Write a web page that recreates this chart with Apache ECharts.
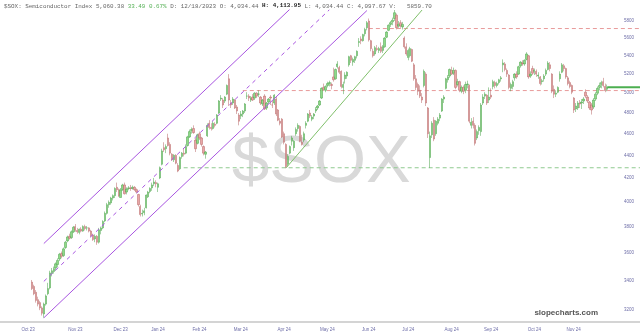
<!DOCTYPE html>
<html><head><meta charset="utf-8">
<script src="https://cdn.jsdelivr.net/npm/echarts@6/dist/echarts.min.js"></script>
<style>html,body{margin:0;padding:0;background:#fff;}#c{width:640px;height:335px;}</style>
</head><body><div id="c"></div>
<script>
// ---------- DATA ----------
const holidays = ['2023-11-23','2023-12-25','2024-01-01','2024-01-15','2024-02-19','2024-03-29','2024-05-27','2024-06-19','2024-07-04','2024-09-02','2024-11-28','2024-12-25'];
const calendarStart = '2023-10-02';
const calendarEnd = '2024-12-31';
const dataStart = '2023-10-13';

const opens = [
3390,3360,3320,3270,3250,3215,3175,3240,3310,3350,
3450,3465,3490,3515,3555,3595,3580,3640,3690,3725,
3715,3760,3800,3770,3755,3780,3765,3800,3790,3790,
3765,3735,3705,3725,3680,3770,3790,3845,3905,3975,
3990,4030,4050,4120,4100,4034.44,4100,4140,4080,4110,
4115,4110,4120,4100,4060,3960,3900,3910,3950,4040,
4085,4115,4150,4160,4120,4200,4320,4470,4460,4560,
4500,4410,4360,4400,4310,4280,4390,4420,4420,4490,
4570,4630,4650,4540,4510,4600,4560,4480,4410,4580,
4700,4660,4650,4690,4700,4800,4940,4930,4920,4990,
5150,4900,4900,4930,4860,4780,4770,4790,4820,4970,
4970,4930,4960,4950,5000,4990,4960,4890,4970,4850,
4910,4960,4880,4900,4940,4830,4720,4740,4600,4500,
4320,4420,4530,4470,4600,4650,4670,4520,4540,4680,
4720,4800,4740,4770,4820,4850,4880,4950,5060,5030,
5080,5100,5090,5170,5150,5280,5270,5230,5060,5150,
5180,5300,5400,5330,5350,5400,5550,5590,5570,5650,
5720,5800,5570,5450,5420,5480,5460,5500,5460,5500,
5610,5690,5760,5790,5830,5870,5740,5780,5730,5600,
5500,5380,5400,5470,5300,5150,5090,5030,4960,5080,
5200,4850,4380,4590,4730,4600,4700,4750,4820,4940,
5050,5140,5180,5240,5210,5240,5090,5120,5020,5060,
5030,5090,5080,4680,4720,4680,4560,4630,4620,4900,
4970,4980,4930,4980,5070,5110,5080,5110,5150,5300,
5310,5240,5190,5050,5070,5160,5200,5200,5290,5320,
5310,5360,5400,5180,5260,5230,5230,5180,5170,5120,
5150,5200,5250,5300,5200,5040,4990,5010,5150,5220,
5290,5260,5160,5110,5080,4950,4840,4850,4900,4900,
4920,5010,4960,4910,4880,4860,4940,5000,5060,5090,
5120,5070,5040];
const highs = [
3405,3372,3335,3290,3262,3225,3250,3305,3385,3470,
3490,3500,3530,3560,3600,3610,3640,3690,3730,3745,
3770,3805,3820,3790,3785,3795,3810,3815,3805,3795,
3775,3745,3740,3735,3790,3800,3850,3920,3990,4010,
4040,4060,4120,4160,4110,4113.95,4150,4160,4120,4130,
4140,4135,4130,4110,4065,3975,3935,3950,4060,4090,
4120,4160,4200,4180,4160,4300,4460,4520,4500,4600,
4520,4420,4410,4410,4330,4390,4430,4460,4500,4580,
4640,4660,4680,4560,4600,4620,4570,4490,4440,4700,
4730,4700,4720,4710,4790,4930,4980,4950,4970,5090,
5200,4930,4960,4940,4880,4800,4820,4830,4900,5010,
4990,4970,4990,5010,5010,5030,4970,4940,4990,4910,
4950,4980,4920,4990,4960,4840,4750,4750,4620,4510,
4410,4490,4580,4540,4660,4700,4680,4590,4620,4720,
4800,4830,4780,4800,4860,4880,4930,5060,5100,5080,
5120,5130,5110,5270,5260,5340,5290,5240,5120,5220,
5230,5400,5410,5380,5400,5460,5600,5620,5650,5720,
5800,5830,5580,5480,5510,5520,5500,5550,5520,5610,
5680,5760,5800,5840,5933,5890,5800,5810,5790,5620,
5540,5480,5500,5480,5320,5190,5110,5080,5000,5250,
5220,4860,4620,4720,4760,4730,4760,4800,4950,4980,
5160,5190,5260,5280,5270,5250,5150,5130,5080,5080,
5120,5130,5090,4750,4760,4700,4640,4680,4900,4990,
5010,4990,5060,5050,5140,5130,5120,5150,5180,5360,
5330,5260,5200,5110,5140,5210,5230,5290,5340,5350,
5360,5440,5410,5230,5290,5260,5250,5220,5180,5150,
5200,5260,5340,5330,5210,5080,5030,5070,5230,5320,
5310,5270,5180,5130,5090,4960,4900,4920,4930,4940,
4960,5040,4980,4920,4900,4950,5010,5070,5110,5130,
5160,5100,5090];
const lows = [
3335,3300,3250,3225,3200,3165,3150,3230,3300,3340,
3430,3450,3470,3495,3540,3560,3570,3630,3680,3700,
3705,3750,3760,3745,3740,3755,3760,3770,3770,3755,
3720,3690,3680,3660,3670,3740,3780,3835,3895,3950,
3975,4010,4030,4080,4040,4034.44,4090,4060,4060,4095,
4090,4100,4090,4070,3960,3880,3880,3890,3945,4030,
4070,4090,4130,4120,4080,4190,4310,4430,4420,4480,
4400,4350,4340,4320,4250,4270,4370,4390,4410,4480,
4560,4600,4600,4430,4500,4540,4480,4400,4370,4570,
4640,4630,4640,4660,4690,4790,4920,4850,4900,4980,
4870,4850,4880,4840,4790,4680,4740,4760,4800,4940,
4920,4910,4920,4930,4950,4960,4880,4870,4830,4830,
4890,4880,4850,4880,4770,4720,4680,4560,4500,4285,
4300,4410,4490,4440,4580,4620,4520,4490,4520,4650,
4710,4750,4720,4740,4800,4830,4870,4940,5030,5010,
5060,5070,5040,5120,5140,5260,5200,5050,4990,5100,
5150,5280,5320,5290,5320,5370,5500,5530,5560,5620,
5690,5560,5450,5380,5400,5450,5430,5430,5430,5490,
5600,5680,5730,5750,5800,5700,5720,5720,5700,5480,
5400,5350,5380,5330,5130,5030,4980,4950,4900,5060,
4870,4560,4288,4560,4530,4580,4680,4720,4810,4900,
5040,5110,5160,5190,5190,5040,5070,5010,5000,4990,
5000,5050,4700,4650,4650,4490,4540,4590,4580,4880,
4940,4880,4900,4940,5040,5050,5060,5090,5120,5220,
5230,5170,5040,5020,5040,5130,5150,5190,5270,5290,
5290,5350,5150,5160,5190,5190,5170,5150,5080,5090,
5120,5180,5240,5230,5000,4950,4960,5000,5120,5210,
5230,5150,5080,5050,4990,4800,4810,4830,4850,4840,
4890,4950,4900,4830,4785,4840,4920,4980,5030,5050,
5060,5010,5020];
const closes = [
3345,3310,3265,3240,3215,3180,3240,3295,3345,3455,
3470,3485,3520,3545,3590,3575,3630,3680,3720,3710,
3760,3795,3775,3760,3780,3765,3800,3785,3790,3765,
3730,3700,3725,3680,3775,3790,3840,3905,3975,3995,
4030,4050,4110,4100,4050,4097.67,4140,4065,4105,4115,
4110,4120,4100,4080,3975,3895,3905,3925,4055,4080,
4110,4140,4165,4150,4150,4290,4440,4450,4480,4490,
4420,4360,4400,4330,4260,4380,4420,4410,4480,4570,
4620,4640,4610,4460,4590,4560,4500,4420,4430,4680,
4660,4650,4700,4680,4780,4920,4950,4880,4960,5080,
4930,4880,4940,4850,4820,4720,4790,4820,4890,4970,
4950,4950,4930,5000,4970,4990,4900,4930,4840,4900,
4940,4950,4880,4980,4790,4730,4700,4570,4520,4300,
4390,4480,4560,4530,4640,4680,4530,4500,4600,4700,
4790,4770,4760,4790,4840,4870,4920,5050,5040,5070,
5100,5110,5080,5140,5250,5310,5220,5070,5090,5190,
5220,5390,5350,5360,5390,5450,5560,5570,5640,5700,
5780,5580,5480,5400,5490,5470,5480,5450,5500,5600,
5670,5750,5780,5810,5900,5720,5760,5740,5760,5500,
5420,5460,5480,5340,5150,5060,5020,4970,4930,5230,
4900,4600,4580,4700,4550,4720,4740,4780,4940,4960,
5150,5170,5250,5200,5240,5060,5120,5030,5060,5020,
5090,5095,4720,4710,4680,4510,4620,4660,4880,4960,
4990,4900,4960,4960,5120,5080,5100,5140,5160,5320,
5250,5200,5060,5090,5120,5200,5170,5280,5330,5310,
5350,5420,5170,5200,5210,5240,5200,5190,5100,5130,
5180,5240,5320,5260,5020,4990,5000,5060,5200,5300,
5260,5170,5100,5070,5010,4830,4870,4900,4890,4910,
4940,4970,4920,4850,4830,4930,4990,5050,5080,5110,
5080,5026.89,5060.38];

const monthLabels = ['Oct 23','Nov 23','Dec 23','Jan 24','Feb 24','Mar 24','Apr 24','May 24','Jun 24','Jul 24','Aug 24','Sep 24','Oct 24','Nov 24'];
const monthLabelDates = ['2023-10-11','2023-11-14','2023-12-18','2024-01-17','2024-02-15','2024-03-18','2024-04-18','2024-05-20','2024-06-20','2024-07-19','2024-08-20','2024-09-18','2024-10-18','2024-11-15'];
const priceTicks = [3200,3400,3600,3800,4000,4200,4400,4600,4800,5000,5200,5400,5600,5800];

const channelLower = [['2023-10-23',3150],['2024-06-18',5926]];
const channelMid   = [['2023-10-23',3395],['2024-05-21',5937]];
const channelUpper = [['2023-10-23',3670],['2024-04-23',5945]];
const trendGreen   = [['2024-04-19',4288],['2024-07-30',5933]];
const resistanceTop = {from:'2024-06-20', price:5711};
const resistanceMid = {from:'2024-03-19', price:5027};
const supportLow    = {from:'2024-02-05', price:4289};
const lastPrice = 5060.38;

const headerParts = {
  name: '$SOX: Semiconductor Index 5,060.38 ',
  change: '33.49 0.67%',
  mid: ' D: 12/18/2023 O: 4,034.44 ',
  high: 'H: 4,113.95',
  tail: ' L: 4,034.44 C: 4,097.67 V:   5859.70'
};

// axis ranges (trading-day index / price)
const X_MIN = -7.24, X_MAX = 317.63;
const Y_MIN = 3123, Y_MAX = 5933;

// ---------- BUILD ----------
function tradingCalendar(start, end, hol) {
  const out = []; const h = new Set(hol);
  let d = new Date(start + 'T00:00:00Z'); const e = new Date(end + 'T00:00:00Z');
  while (d <= e) {
    const wd = d.getUTCDay(); const s = d.toISOString().slice(0, 10);
    if (wd !== 0 && wd !== 6 && !h.has(s)) out.push(s);
    d = new Date(d.getTime() + 86400000);
  }
  return out;
}
const days = tradingCalendar(calendarStart, calendarEnd, holidays);
const dayIndex = {}; days.forEach((d, i) => dayIndex[d] = i);
const startI = dayIndex[dataStart];
const L = Math.log;

const candleData = closes.map((c, k) => [startI + k, L(opens[k]), L(c), L(lows[k]), L(highs[k])]);
const lastI = startI + closes.length - 1;

const labelByIndex = {};
monthLabelDates.forEach((d, i) => labelByIndex[dayIndex[d]] = monthLabels[i]);

const seg = pts => pts.map(p => [dayIndex[p[0]], L(p[1])]);
const hline = o => [[dayIndex[o.from], L(o.price)], [X_MAX, L(o.price)]];
const lineSeries = (data, color, width, type, z) => ({
  type: 'line', data, symbol: 'none', silent: true, clip: true, z: z || 3,
  lineStyle: {color, width, type}
});

const chart = echarts.init(document.getElementById('c'), null, {renderer: 'canvas'});
chart.setOption({
  animation: false,
  backgroundColor: '#ffffff',
  grid: {left: 0, right: 0, top: 10, bottom: 13},
  xAxis: {
    type: 'value', min: X_MIN, max: X_MAX,
    splitLine: {show: false},
    axisTick: {show: false},
    axisLine: {show: true, lineStyle: {color: '#c6c6c6', width: 1.5}},
    axisLabel: {
      customValues: monthLabelDates.map(d => dayIndex[d]),
      formatter: v => labelByIndex[Math.round(v)] || '',
      fontSize: 4.5, color: '#6e6ea8', margin: 5, fontFamily: 'Liberation Sans'
    }
  },
  yAxis: {
    type: 'value', position: 'right', min: L(Y_MIN), max: L(Y_MAX),
    splitLine: {show: false}, axisTick: {show: false}, axisLine: {show: false},
    axisLabel: {
      inside: true, margin: 6,
      customValues: priceTicks.map(L),
      formatter: v => String(Math.round(Math.exp(v))),
      fontSize: 4.5, color: '#6e6ea8', fontFamily: 'Liberation Sans'
    }
  },
  graphic: [
    {type: 'text', x: 232, y: 164, z: 0, silent: true,
     style: {text: '$SOX', fill: '#d9d9d9', font: '67px "Liberation Sans"', verticalAlign: 'middle'}},
    {type: 'text', x: 4, y: 6, z: 10, silent: true,
     style: {
       text: '{a|' + headerParts.name + '}{g|' + headerParts.change + '}{a|' + headerParts.mid + '}{b|' + headerParts.high + '}{a|' + headerParts.tail + '}',
       verticalAlign: 'middle',
       rich: {
         a: {fontFamily: 'Liberation Mono', fontSize: 5.9, fill: '#666666'},
         g: {fontFamily: 'Liberation Mono', fontSize: 5.9, fill: '#55b055'},
         b: {fontFamily: 'Liberation Mono', fontSize: 5.9, fill: '#222222', fontWeight: 'bold'}
       }
     }},
    {type: 'text', x: 598, y: 313, z: 10, silent: true,
     style: {text: 'slopecharts.com', fill: '#555555', font: 'bold 8px "Liberation Sans"', align: 'right', verticalAlign: 'middle'}}
  ],
  series: [
    lineSeries(hline(supportLow), '#8fca8f', 1, [4, 3], 1),
    lineSeries(hline(resistanceMid), '#e89a9a', 1, [4, 3], 1),
    lineSeries(hline(resistanceTop), '#e89a9a', 1, [4, 3], 1),
    {
      type: 'candlestick', data: candleData, barWidth: 1.8, z: 2,
      itemStyle: {color: '#8fda88', color0: '#e9a6a6', borderColor: '#46a046', borderColor0: '#b46262', borderWidth: 0.5}
    },
    lineSeries(seg(channelLower), '#a855e0', 1, 'solid'),
    lineSeries(seg(channelMid), '#a855e0', 1, [4, 4]),
    lineSeries(seg(channelUpper), '#a855e0', 1, 'solid'),
    lineSeries(seg(trendGreen), '#7fbf6a', 1, 'solid'),
    lineSeries([[lastI, L(lastPrice)], [X_MAX, L(lastPrice)]], '#4caf50', 2, 'solid', 4)
  ]
});
</script></body></html>
